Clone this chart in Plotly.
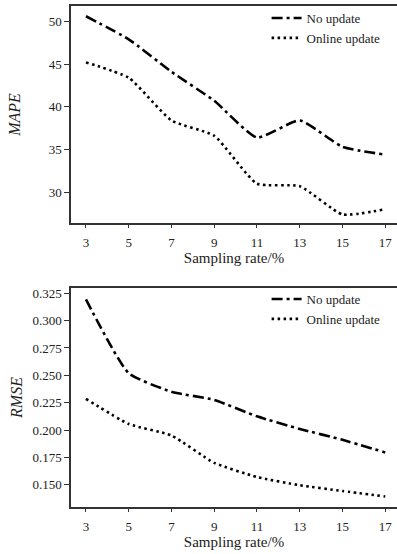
import plotly.graph_objects as go
from plotly.subplots import make_subplots

rates = [3, 5, 7, 9, 11, 13, 15, 17]
mape_no_update = [50.6, 47.9, 44.1, 40.7, 36.4, 38.4, 35.3, 34.4]
mape_online = [45.2, 43.4, 38.4, 36.6, 31.0, 30.7, 27.4, 28.0]
rmse_no_update = [0.3195, 0.252, 0.235, 0.2275, 0.2125, 0.201, 0.191, 0.1795]
rmse_online = [0.2285, 0.2055, 0.195, 0.170, 0.157, 0.1495, 0.1442, 0.1392]
x_ticks = [3, 5, 7, 9, 11, 13, 15, 17]
mape_ticks = [30, 35, 40, 45, 50]
rmse_ticks = [0.150, 0.175, 0.200, 0.225, 0.250, 0.275, 0.300, 0.325]

FONT = "Liberation Serif"
DASHDOT = "11px,4px,3px,4px"
DOT = "2.5px,3.5px"

fig = make_subplots(rows=2, cols=1, vertical_spacing=0.13)

fig.add_trace(go.Scatter(x=rates, y=mape_no_update, mode="lines", name="No update",
                         line=dict(color="black", width=2.6, dash=DASHDOT, shape="spline", smoothing=0.5),
                         legend="legend"), row=1, col=1)
fig.add_trace(go.Scatter(x=rates, y=mape_online, mode="lines", name="Online update",
                         line=dict(color="black", width=2.6, dash=DOT, shape="spline", smoothing=0.5),
                         legend="legend"), row=1, col=1)
fig.add_trace(go.Scatter(x=rates, y=rmse_no_update, mode="lines", name="No update",
                         line=dict(color="black", width=2.6, dash=DASHDOT, shape="spline", smoothing=0.5),
                         legend="legend2"), row=2, col=1)
fig.add_trace(go.Scatter(x=rates, y=rmse_online, mode="lines", name="Online update",
                         line=dict(color="black", width=2.6, dash=DOT, shape="spline", smoothing=0.5),
                         legend="legend2"), row=2, col=1)

xcommon = dict(range=[2.3, 17.55], tickvals=x_ticks, showline=True, linecolor="#333", linewidth=1.5,
               mirror=True, ticks="outside", ticklen=3, tickcolor="#333", showgrid=False, zeroline=False,
               tickfont=dict(family=FONT, size=13, color="#222"), automargin=False, ticklabelstandoff=4,
               title=dict(text="Sampling rate/%", font=dict(family=FONT, size=15, color="#222"), standoff=3))
fig.update_xaxes(**xcommon, row=1, col=1)
fig.update_xaxes(**xcommon, row=2, col=1)

ycommon = dict(showline=True, linecolor="#333", linewidth=1.5, ticks="outside", ticklen=5,
               tickcolor="#333", showgrid=False, zeroline=False, automargin=False,
               tickfont=dict(family=FONT, size=13, color="#222"))
fig.update_yaxes(**ycommon, range=[26.4, 51.8], tickvals=mape_ticks,
                 title=dict(text="<i>MAPE</i>", font=dict(family=FONT, size=16, color="#222"), standoff=24),
                 row=1, col=1)
fig.update_yaxes(**ycommon, range=[0.1296, 0.3298], tickvals=rmse_ticks, tickformat=".3f",
                 title=dict(text="<i>RMSE</i>", font=dict(family=FONT, size=16, color="#222"), standoff=6),
                 row=2, col=1)

fig.update_layout(
    width=397, height=554,
    margin=dict(l=71, r=0, t=6, b=47),
    plot_bgcolor="white", paper_bgcolor="white",
    legend=dict(x=0.6, y=1.006, xanchor="left", yanchor="top", bgcolor="rgba(0,0,0,0)",
                font=dict(family=FONT, size=13, color="#222"), itemwidth=30, tracegroupgap=0),
    legend2=dict(x=0.6, y=0.445, xanchor="left", yanchor="top", bgcolor="rgba(0,0,0,0)",
                 font=dict(family=FONT, size=13, color="#222"), itemwidth=30, tracegroupgap=0),
)
fig.layout.yaxis.domain = [0.567, 1.0]
fig.layout.yaxis2.domain = [0.0, 0.437]

fig.write_html("out.html", config={"displayModeBar": False},
               post_script="document.body.style.margin='0';document.body.style.overflow='hidden';")
